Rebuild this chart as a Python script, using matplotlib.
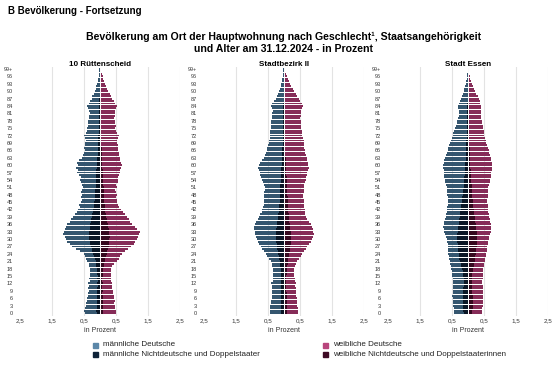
import matplotlib
matplotlib.use("Agg")
import matplotlib.pyplot as plt
from matplotlib.patches import Rectangle
import numpy as np

plt.rcParams['font.family'] = ['Liberation Sans', 'DejaVu Sans']

ages = list(range(100))
age_labels = [str(a) for a in range(0, 99, 3)] + ["99+"]
age_ticks = list(range(0, 100, 3))
x_ticks = [-2.5, -1.5, -0.5, 0.5, 1.5, 2.5]
x_labels = ["2,5", "1,5", "0,5", "0,5", "1,5", "2,5"]
panels = ["10 Rüttenscheid", "Stadtbezirk II", "Stadt Essen"]

# --- 10 Rüttenscheid ---
m_total_1 = [0.48,0.50,0.47,0.45,0.44,0.40,0.42,0.36,0.38,0.35,
             0.37,0.33,0.38,0.31,0.33,0.30,0.32,0.30,0.31,0.33,
             0.35,0.40,0.44,0.46,0.50,0.62,0.75,0.88,0.95,1.02,
             1.05,1.10,1.15,1.12,1.08,1.05,1.02,0.95,0.90,0.85,
             0.78,0.72,0.68,0.62,0.66,0.60,0.56,0.58,0.55,0.60,
             0.56,0.52,0.55,0.58,0.62,0.60,0.66,0.72,0.70,0.74,
             0.68,0.72,0.66,0.55,0.52,0.50,0.48,0.50,0.46,0.47,
             0.44,0.46,0.50,0.45,0.42,0.40,0.38,0.36,0.37,0.33,
             0.35,0.32,0.34,0.36,0.40,0.35,0.30,0.26,0.24,0.20,
             0.17,0.14,0.12,0.09,0.07,0.05,0.04,0.03,0.02,0.03]
m_nd_1 = [0.10,0.11,0.10,0.09,0.10,0.09,0.08,0.09,0.08,0.08,
          0.09,0.07,0.08,0.07,0.08,0.07,0.08,0.09,0.10,0.11,
          0.12,0.14,0.16,0.18,0.21,0.24,0.26,0.28,0.30,0.32,
          0.33,0.34,0.34,0.33,0.32,0.31,0.30,0.28,0.27,0.25,
          0.24,0.22,0.21,0.19,0.19,0.18,0.17,0.17,0.16,0.16,
          0.15,0.14,0.14,0.13,0.13,0.12,0.12,0.11,0.11,0.10,
          0.10,0.09,0.08,0.08,0.07,0.07,0.06,0.06,0.06,0.05,
          0.05,0.05,0.05,0.04,0.04,0.04,0.04,0.03,0.03,0.03,
          0.03,0.03,0.02,0.02,0.02,0.02,0.02,0.02,0.01,0.01,
          0.01,0.01,0.01,0.0,0.0,0.0,0.0,0.0,0.0,0.0]
f_total_1 = [0.50,0.49,0.47,0.48,0.45,0.46,0.43,0.44,0.40,0.41,
             0.38,0.36,0.37,0.34,0.35,0.33,0.34,0.33,0.35,0.38,
             0.45,0.52,0.58,0.62,0.68,0.78,0.88,0.98,1.05,1.10,
             1.15,1.18,1.22,1.25,1.15,1.08,1.00,0.95,0.90,0.84,
             0.78,0.72,0.66,0.60,0.57,0.54,0.52,0.50,0.52,0.50,
             0.48,0.52,0.50,0.55,0.57,0.56,0.60,0.62,0.64,0.66,
             0.70,0.66,0.64,0.62,0.60,0.58,0.57,0.56,0.55,0.54,
             0.52,0.56,0.58,0.53,0.50,0.48,0.50,0.46,0.47,0.45,
             0.47,0.48,0.46,0.49,0.52,0.48,0.44,0.38,0.34,0.30,
             0.26,0.22,0.19,0.16,0.13,0.10,0.08,0.05,0.03,0.03]
f_nd_1 = [0.09,0.10,0.09,0.09,0.08,0.09,0.08,0.08,0.07,0.08,
          0.07,0.07,0.08,0.07,0.07,0.08,0.08,0.09,0.10,0.11,
          0.13,0.15,0.17,0.19,0.21,0.23,0.25,0.27,0.28,0.29,
          0.29,0.30,0.29,0.28,0.27,0.26,0.24,0.22,0.21,0.19,
          0.18,0.17,0.16,0.15,0.15,0.14,0.13,0.13,0.12,0.12,
          0.11,0.11,0.10,0.10,0.09,0.09,0.08,0.08,0.08,0.07,
          0.07,0.06,0.06,0.06,0.05,0.05,0.05,0.05,0.04,0.04,
          0.04,0.04,0.04,0.03,0.03,0.03,0.03,0.03,0.03,0.02,
          0.02,0.02,0.02,0.02,0.02,0.02,0.02,0.01,0.01,0.01,
          0.01,0.01,0.01,0.0,0.0,0.0,0.0,0.0,0.0,0.0]

# --- Stadtbezirk II ---
m_total_2 = [0.43,0.45,0.44,0.44,0.42,0.41,0.38,0.37,0.36,0.37,
             0.38,0.36,0.40,0.35,0.34,0.33,0.34,0.33,0.34,0.36,
             0.39,0.42,0.46,0.52,0.57,0.62,0.68,0.73,0.78,0.82,
             0.85,0.88,0.90,0.92,0.93,0.95,0.92,0.88,0.82,0.78,
             0.74,0.70,0.68,0.66,0.64,0.63,0.62,0.64,0.63,0.61,
             0.60,0.60,0.62,0.65,0.68,0.72,0.76,0.75,0.78,0.80,
             0.78,0.74,0.70,0.63,0.60,0.57,0.54,0.52,0.50,0.47,
             0.46,0.45,0.44,0.43,0.44,0.42,0.41,0.40,0.40,0.38,
             0.37,0.36,0.35,0.37,0.42,0.38,0.32,0.26,0.23,0.19,
             0.16,0.13,0.10,0.08,0.06,0.05,0.04,0.03,0.02,0.02]
m_nd_2 = [0.10,0.10,0.10,0.09,0.09,0.09,0.09,0.08,0.08,0.08,
          0.08,0.08,0.08,0.08,0.08,0.08,0.09,0.09,0.10,0.11,
          0.12,0.13,0.15,0.17,0.19,0.20,0.21,0.22,0.23,0.24,
          0.24,0.25,0.25,0.24,0.24,0.23,0.22,0.21,0.20,0.19,
          0.18,0.17,0.16,0.15,0.15,0.14,0.14,0.13,0.13,0.12,
          0.12,0.11,0.11,0.10,0.10,0.09,0.09,0.09,0.08,0.08,
          0.07,0.07,0.06,0.06,0.05,0.05,0.05,0.05,0.04,0.04,
          0.04,0.04,0.04,0.03,0.03,0.03,0.03,0.03,0.02,0.02,
          0.02,0.02,0.02,0.02,0.02,0.02,0.01,0.01,0.01,0.01,
          0.01,0.01,0.0,0.0,0.0,0.0,0.0,0.0,0.0,0.0]
f_total_2 = [0.44,0.45,0.43,0.42,0.41,0.40,0.40,0.38,0.37,0.36,
             0.37,0.35,0.36,0.34,0.33,0.31,0.32,0.31,0.32,0.35,
             0.38,0.42,0.46,0.52,0.57,0.62,0.68,0.73,0.79,0.85,
             0.89,0.92,0.93,0.92,0.90,0.86,0.83,0.78,0.72,0.68,
             0.66,0.65,0.65,0.64,0.63,0.63,0.62,0.60,0.60,0.61,
             0.62,0.63,0.64,0.66,0.68,0.70,0.72,0.73,0.75,0.77,
             0.76,0.75,0.73,0.71,0.69,0.67,0.65,0.64,0.63,0.63,
             0.61,0.60,0.57,0.56,0.55,0.54,0.53,0.52,0.52,0.51,
             0.52,0.53,0.54,0.56,0.60,0.56,0.50,0.47,0.42,0.36,
             0.31,0.27,0.23,0.19,0.15,0.12,0.10,0.07,0.04,0.03]
f_nd_2 = [0.09,0.10,0.09,0.09,0.09,0.08,0.08,0.08,0.08,0.07,
          0.07,0.07,0.07,0.07,0.07,0.07,0.08,0.08,0.09,0.10,
          0.11,0.12,0.14,0.15,0.17,0.18,0.19,0.20,0.21,0.21,
          0.22,0.22,0.21,0.21,0.20,0.19,0.18,0.17,0.16,0.16,
          0.15,0.14,0.14,0.13,0.12,0.12,0.11,0.11,0.10,0.10,
          0.09,0.09,0.09,0.08,0.08,0.08,0.07,0.07,0.06,0.06,
          0.06,0.05,0.05,0.05,0.04,0.04,0.04,0.04,0.03,0.03,
          0.03,0.03,0.03,0.03,0.03,0.02,0.02,0.02,0.02,0.02,
          0.02,0.02,0.02,0.02,0.02,0.01,0.01,0.01,0.01,0.01,
          0.01,0.01,0.0,0.0,0.0,0.0,0.0,0.0,0.0,0.0]

# --- Stadt Essen ---
m_total_3 = [0.43,0.44,0.45,0.46,0.47,0.47,0.48,0.49,0.48,0.48,
             0.47,0.47,0.46,0.47,0.48,0.49,0.50,0.51,0.52,0.54,
             0.55,0.56,0.58,0.60,0.61,0.62,0.62,0.62,0.63,0.65,
             0.67,0.70,0.73,0.75,0.76,0.77,0.76,0.74,0.72,0.70,
             0.68,0.67,0.66,0.65,0.63,0.62,0.63,0.64,0.65,0.66,
             0.66,0.67,0.69,0.71,0.73,0.74,0.75,0.76,0.76,0.77,
             0.77,0.76,0.74,0.72,0.70,0.67,0.64,0.61,0.58,0.55,
             0.52,0.50,0.48,0.46,0.44,0.41,0.38,0.35,0.33,0.31,
             0.29,0.28,0.29,0.31,0.31,0.28,0.25,0.22,0.19,0.16,
             0.14,0.11,0.09,0.07,0.05,0.04,0.03,0.02,0.01,0.01]
m_nd_3 = [0.14,0.15,0.16,0.16,0.16,0.16,0.16,0.16,0.15,0.15,
          0.15,0.14,0.14,0.14,0.14,0.15,0.16,0.17,0.19,0.21,
          0.23,0.25,0.27,0.28,0.29,0.30,0.31,0.32,0.32,0.33,
          0.33,0.33,0.33,0.32,0.31,0.30,0.29,0.28,0.27,0.26,
          0.25,0.24,0.23,0.22,0.21,0.20,0.19,0.18,0.17,0.16,
          0.15,0.14,0.13,0.12,0.12,0.11,0.10,0.10,0.09,0.09,
          0.08,0.08,0.07,0.07,0.07,0.06,0.06,0.06,0.05,0.05,
          0.05,0.04,0.04,0.04,0.04,0.03,0.03,0.03,0.03,0.02,
          0.02,0.02,0.02,0.02,0.02,0.02,0.01,0.01,0.01,0.01,
          0.01,0.0,0.0,0.0,0.0,0.0,0.0,0.0,0.0,0.0]
f_total_3 = [0.44,0.45,0.45,0.46,0.46,0.47,0.47,0.48,0.48,0.47,
             0.46,0.46,0.45,0.45,0.46,0.46,0.47,0.48,0.48,0.50,
             0.51,0.52,0.54,0.56,0.57,0.58,0.59,0.60,0.61,0.63,
             0.65,0.67,0.69,0.71,0.72,0.72,0.71,0.69,0.68,0.66,
             0.65,0.64,0.63,0.62,0.61,0.60,0.60,0.61,0.62,0.63,
             0.63,0.64,0.66,0.68,0.69,0.71,0.72,0.73,0.75,0.76,
             0.76,0.75,0.73,0.71,0.69,0.67,0.65,0.62,0.59,0.57,
             0.55,0.53,0.51,0.50,0.49,0.48,0.46,0.44,0.43,0.42,
             0.41,0.40,0.40,0.41,0.41,0.39,0.36,0.33,0.30,0.26,
             0.22,0.18,0.15,0.12,0.09,0.07,0.05,0.03,0.02,0.02]
f_nd_3 = [0.13,0.14,0.15,0.15,0.15,0.15,0.15,0.15,0.14,0.14,
          0.14,0.13,0.13,0.13,0.13,0.14,0.14,0.15,0.16,0.18,
          0.19,0.21,0.22,0.23,0.24,0.25,0.26,0.27,0.27,0.28,
          0.28,0.28,0.28,0.27,0.26,0.25,0.24,0.23,0.22,0.21,
          0.20,0.19,0.18,0.17,0.16,0.16,0.15,0.14,0.13,0.13,
          0.12,0.11,0.11,0.10,0.10,0.09,0.09,0.08,0.08,0.07,
          0.07,0.07,0.06,0.06,0.06,0.05,0.05,0.05,0.04,0.04,
          0.04,0.04,0.03,0.03,0.03,0.03,0.03,0.02,0.02,0.02,
          0.02,0.02,0.02,0.02,0.02,0.02,0.01,0.01,0.01,0.01,
          0.01,0.01,0.0,0.0,0.0,0.0,0.0,0.0,0.0,0.0]

series = [
    (m_total_1, m_nd_1, f_total_1, f_nd_1),
    (m_total_2, m_nd_2, f_total_2, f_nd_2),
    (m_total_3, m_nd_3, f_total_3, f_nd_3),
]

legend_labels = ["männliche Deutsche", "männliche Nichtdeutsche und Doppelstaater",
                 "weibliche Deutsche", "weibliche Nichtdeutsche und Doppelstaaterinnen"]
c_md = "#35566f"
c_mn = "#0a1626"
c_fd = "#862c58"
c_fn = "#36091f"
leg_colors = ["#5b87a8", "#0e2238", "#b8457c", "#3e0a24"]

W, H = 560, 365
fig = plt.figure(figsize=(W / 100, H / 100), dpi=100)

lefts = [20, 204, 388]
ax_w = 160
top_px, bot_px = 67, 316

def fx(px):
    return px / W

def fy(py):
    return 1 - py / H

for i, (mt, mn, ft, fn) in enumerate(series):
    ax = fig.add_axes([fx(lefts[i]), fy(bot_px), fx(ax_w), (bot_px - top_px) / H])
    y = np.array(ages)
    mt = np.array(mt); mn = np.array(mn); ft = np.array(ft); fn = np.array(fn)
    for g in [-1.5, -0.5, 0.5, 1.5, 2.5]:
        ax.axvline(g, color="#e3e3e3", lw=0.8, zorder=0)
    h = 0.78
    ax.barh(y, -mt, height=h, color=c_md, edgecolor="none", zorder=2)
    ax.barh(y, -mn, height=h, color=c_mn, edgecolor="none", zorder=3)
    ax.barh(y, ft, height=h, color=c_fd, edgecolor="none", zorder=2)
    ax.barh(y, fn, height=h, color=c_fn, edgecolor="none", zorder=3)
    ax.axvline(0, color="white", lw=0.7, zorder=4)
    ax.set_xlim(-2.5, 2.5)
    ax.set_ylim(-1.2, 99.8)
    ax.set_xticks(x_ticks)
    ax.set_xticklabels(x_labels, fontsize=4.5, color="#333333")
    ax.set_yticks(age_ticks)
    ax.set_yticklabels(age_labels, fontsize=4, color="#333333")
    ax.tick_params(length=0, pad=1.5)
    ax.tick_params(axis="y", pad=5)
    for s in ax.spines.values():
        s.set_visible(False)
    cx = lefts[i] + ax_w / 2
    fig.text(fx(cx), fy(64), panels[i], ha="center", va="center",
             fontsize=5.8, fontweight="bold")
    fig.text(fx(cx), fy(331), "in Prozent", ha="center", va="center",
             fontsize=5, color="#333333")

fig.text(fx(8), fy(11), "B Bevölkerung - Fortsetzung", ha="left", va="center",
         fontsize=7, fontweight="bold")
fig.text(fx(284), fy(37), "Bevölkerung am Ort der Hauptwohnung nach Geschlecht¹, Staatsangehörigkeit",
         ha="center", va="center", fontsize=7.6, fontweight="bold")
fig.text(fx(284), fy(49), "und Alter am 31.12.2024 - in Prozent",
         ha="center", va="center", fontsize=7.6, fontweight="bold")

leg_pos = [(93, 345), (93, 354), (323, 345), (323, 354)]
for (px, py), lab, col in zip(leg_pos, legend_labels, leg_colors):
    fig.add_artist(Rectangle((fx(px), fy(py + 2.5)), 5 / W, 5 / H,
                             transform=fig.transFigure, color=col))
    fig.text(fx(px + 10), fy(py), lab, ha="left", va="center", fontsize=5.8,
             color="#222222")

fig.savefig("out.png", dpi=100, facecolor="white")
